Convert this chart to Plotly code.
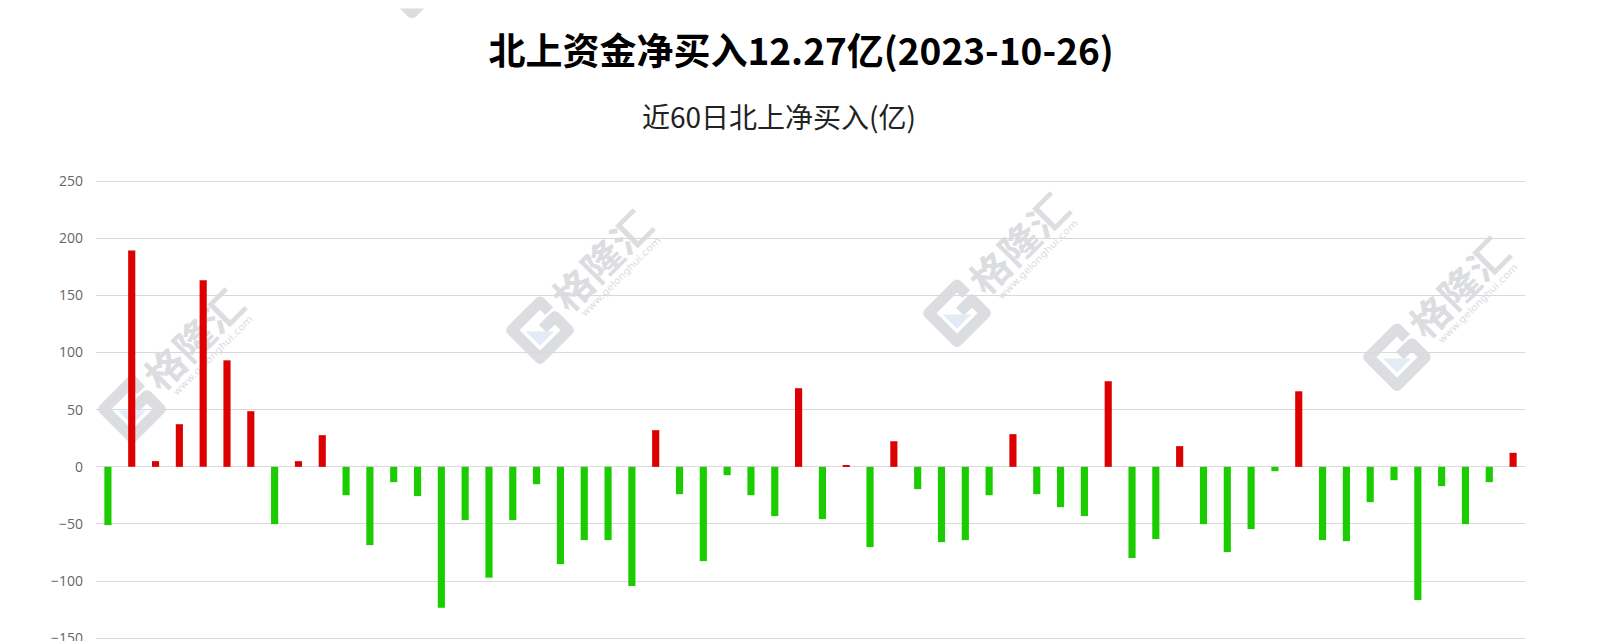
import base64
import plotly.graph_objects as go

dates = [
    "2023-07-24", "2023-07-25", "2023-07-26", "2023-07-27", "2023-07-28", "2023-07-31",
    "2023-08-01", "2023-08-02", "2023-08-03", "2023-08-04", "2023-08-07", "2023-08-08",
    "2023-08-09", "2023-08-10", "2023-08-11", "2023-08-14", "2023-08-15", "2023-08-16",
    "2023-08-17", "2023-08-18", "2023-08-21", "2023-08-22", "2023-08-23", "2023-08-24",
    "2023-08-25", "2023-08-28", "2023-08-29", "2023-08-30", "2023-08-31", "2023-09-01",
    "2023-09-04", "2023-09-05", "2023-09-06", "2023-09-07", "2023-09-08", "2023-09-11",
    "2023-09-12", "2023-09-13", "2023-09-14", "2023-09-15", "2023-09-18", "2023-09-19",
    "2023-09-20", "2023-09-21", "2023-09-22", "2023-09-25", "2023-09-26", "2023-09-27",
    "2023-10-09", "2023-10-10", "2023-10-11", "2023-10-12", "2023-10-13", "2023-10-16",
    "2023-10-17", "2023-10-18", "2023-10-19", "2023-10-20", "2023-10-23", "2023-10-26",
]

net_buy = [
    -51.0, 189.4, 5.0, 37.3, 163.2, 93.2, 48.7, -50.1, 5.0, 27.7,
    -24.8, -68.5, -13.4, -25.6, -123.3, -46.6, -97.0, -46.6, -15.2, -85.1,
    -64.1, -64.1, -104.3, 32.1, -23.9, -82.5, -7.3, -24.8, -43.1, 68.8,
    -45.7, 1.5, -70.2, 22.4, -19.5, -65.9, -64.1, -24.8, 28.6, -23.9,
    -35.3, -43.1, 74.9, -79.8, -63.2, 18.1, -50.1, -74.6, -54.5, -3.8,
    66.1, -64.1, -65.0, -30.9, -11.7, -116.6, -16.9, -50.1, -13.4, 12.27,
]

y_ticks = [-150, -100, -50, 0, 50, 100, 150, 200, 250]

title_text = "北上资金净买入12.27亿(2023-10-26)"
subtitle_text = "近60日北上净买入(亿)"
watermark_text = "格隆汇"
watermark_url = "www.gelonghui.com"

RED = "#dd0000"
GREEN = "#1acc00"

# page body has an 8px margin, so figure coords = screen coords - 8
W, H = 1602, 641
L, R, T, B = 88, 85, 171.6, 0
PW, PH = W - L - R, H - T - B

colors = [RED if v >= 0 else GREEN for v in net_buy]

# ---- watermark SVG (decorative), in figure pixel coordinates ----
def g_logo(a=20, sw=11):
    return (
        f'<path d="M {a} {-0.35*a} L {a} {-a} L {-a} {-a} L {-a} {a} L {a} {a} '
        f'L {a} {0.05*a} L {0.15*a} {0.05*a}" fill="none" stroke="#dcdde1" '
        f'stroke-width="{sw}" stroke-linejoin="round" stroke-linecap="butt"/>'
        f'<path d="M {-0.55*a} {0.55*a} L {-0.55*a} {-0.45*a} L {0.45*a} {0.55*a} Z" '
        f'fill="#e2ebf6"/>'
    )


wm_centres = [(190, 341), (598, 262), (1015, 245), (1455, 289)]
parts = []
for cx, cy in wm_centres:
    fx, fy = cx - 8, cy - 8
    parts.append(
        f'<g transform="translate({fx},{fy}) rotate(-45)">'
        f'<text x="4" y="0" text-anchor="middle" dominant-baseline="central" '
        f'font-family="Noto Sans CJK SC" font-weight="bold" font-size="38" '
        f'textLength="122" lengthAdjust="spacingAndGlyphs" fill="#dcdde1">{watermark_text}</text>'
        f'<text x="6" y="26" text-anchor="middle" dominant-baseline="central" '
        f'font-family="DejaVu Sans" font-size="9.5" textLength="108" '
        f'lengthAdjust="spacingAndGlyphs" fill="#dcdde1">{watermark_url}</text>'
        f'<g transform="translate(-89,7)">{g_logo()}</g>'
        f'</g>'
    )
# partial logo at the very top
parts.append(f'<g transform="translate({412-8},{-16-8}) rotate(-45)">{g_logo()}</g>')

svg = (f'<svg xmlns="http://www.w3.org/2000/svg" width="{W}" height="{H}" '
       f'viewBox="0 0 {W} {H}" preserveAspectRatio="none">' + "".join(parts) + '</svg>')
svg_uri = "data:image/svg+xml;base64," + base64.b64encode(svg.encode("utf-8")).decode("ascii")

fig = go.Figure()
fig.add_trace(go.Bar(
    x=dates, y=net_buy, marker=dict(color=colors, line=dict(width=0)),
    hoverinfo="x+y",
))

fig.add_layout_image(dict(
    source=svg_uri, xref="paper", yref="paper",
    x=-L / PW, y=(H - B) / PH, sizex=W / PW, sizey=H / PH,
    xanchor="left", yanchor="top", sizing="stretch", layer="below", opacity=1,
))

fig.add_annotation(
    x=(771 - L) / PW, y=(H - B - 108) / PH, xref="paper", yref="paper",
    text=subtitle_text, showarrow=False,
    font=dict(family="Noto Sans CJK SC", size=28, color="#222222"),
    xanchor="center", yanchor="middle",
)

fig.update_layout(
    width=W, height=H,
    margin=dict(l=L, r=R, t=T, b=B, pad=0),
    paper_bgcolor="white", plot_bgcolor="rgba(0,0,0,0)",
    title=dict(text=title_text, x=790.5 / W, y=1 - 44.5 / H, xref="paper",
               xanchor="center", yanchor="middle",
               font=dict(family="Noto Sans CJK SC", size=37, color="#000000",
                         weight="bold")),
    bargap=0.7,
    showlegend=False,
    xaxis=dict(type="category", showgrid=False, showticklabels=False,
               showline=False, zeroline=False, ticks=""),
    yaxis=dict(range=[-159.4, 251], tickvals=y_ticks, showgrid=True,
               gridcolor="#d9d9d9", gridwidth=1, zeroline=True,
               zerolinecolor="#d9d9d9", zerolinewidth=1, showline=False,
               ticks="", ticklabelstandoff=12,
               tickfont=dict(family="Open Sans", size=14, color="#666666")),
)

fig.write_html("out.html")
